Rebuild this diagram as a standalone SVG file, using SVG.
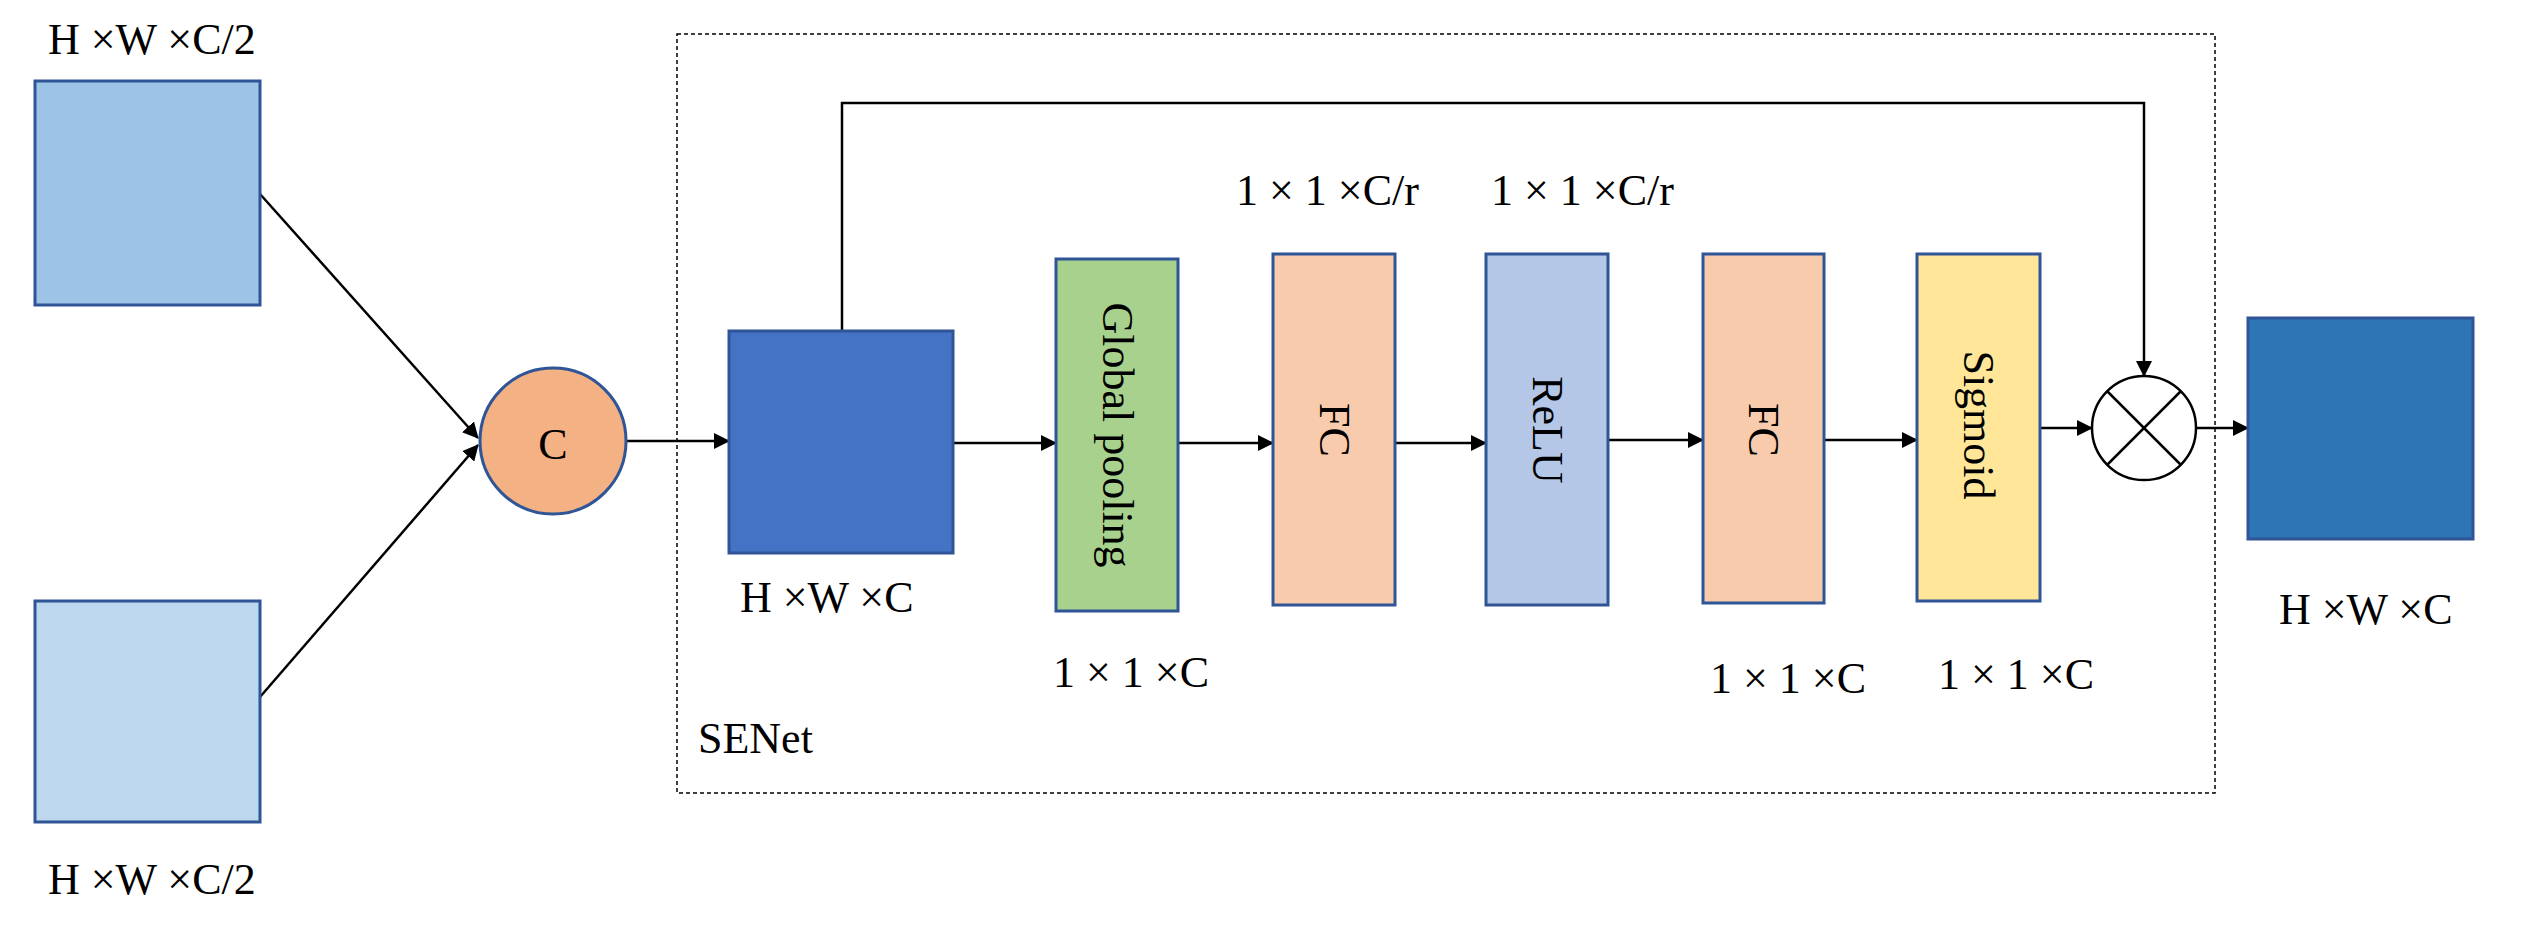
<svg xmlns="http://www.w3.org/2000/svg" width="2523" height="926" viewBox="0 0 2523 926">
<style>
text{font-family:"Liberation Serif","Times New Roman",serif;font-size:44px;fill:#000}
.n{stroke:#2f5597;stroke-width:3}
.c{stroke:#000;stroke-width:2.5;fill:none}
.v{text-anchor:middle;dominant-baseline:central}
</style>
<defs><marker id="a" markerWidth="10" markerHeight="10" refX="9" refY="5" orient="auto" markerUnits="userSpaceOnUse" viewBox="0 0 10 10"><path d="M0,0 L10,5 L0,10 z" fill="#000"/></marker>
<marker id="b" markerWidth="16" markerHeight="16" refX="15" refY="8" orient="auto" markerUnits="userSpaceOnUse" viewBox="0 0 16 16"><path d="M0,0 L16,8 L0,16 z" fill="#000"/></marker></defs>
<rect x="677" y="34" width="1538" height="759" fill="none" stroke="#000" stroke-width="1.5" stroke-dasharray="4,3"/>
<text x="698" y="753">SENet</text>
<g id="connectors" class="c">
<line x1="260" y1="194" x2="478" y2="438" marker-end="url(#b)"/>
<line x1="260" y1="697" x2="478" y2="445" marker-end="url(#b)"/>
<line x1="626" y1="441" x2="729" y2="441" marker-end="url(#b)"/>
<polyline points="842,331 842,103 2144,103 2144,376" marker-end="url(#b)"/>
<line x1="953" y1="443" x2="1056" y2="443" marker-end="url(#b)"/>
<line x1="1178" y1="443" x2="1273" y2="443" marker-end="url(#b)"/>
<line x1="1395" y1="443" x2="1486" y2="443" marker-end="url(#b)"/>
<line x1="1608" y1="440" x2="1703" y2="440" marker-end="url(#b)"/>
<line x1="1824" y1="440" x2="1917" y2="440" marker-end="url(#b)"/>
<line x1="2040" y1="428" x2="2092" y2="428" marker-end="url(#b)"/>
<line x1="2196" y1="428" x2="2248" y2="428" marker-end="url(#b)"/>
</g>
<g id="in1"><rect class="n" x="35" y="81" width="225" height="224" fill="#9dc3e6"/><text x="48" y="54">H ×W ×C/2</text></g>
<g id="in2"><rect class="n" x="35" y="601" width="225" height="221" fill="#bdd7ee"/><text x="48" y="894">H ×W ×C/2</text></g>
<g id="concat"><circle class="n" cx="553" cy="441" r="73" fill="#f4b183" stroke-width="2"/><text x="553" y="444" class="v" font-size="56">C</text></g>
<g id="feat"><rect class="n" x="729" y="331" width="224" height="222" fill="#4472c4"/><text x="740" y="612">H ×W ×C</text></g>
<g id="gp"><rect class="n" x="1056" y="259" width="122" height="352" fill="#a9d18e"/><text class="v" transform="translate(1117,435) rotate(90)">Global pooling</text><text x="1053" y="687">1 × 1 ×C</text></g>
<g id="fc1"><rect class="n" x="1273" y="254" width="122" height="351" fill="#f8cbad"/><text class="v" transform="translate(1334,430) rotate(90)">FC</text></g>
<g id="relu"><rect class="n" x="1486" y="254" width="122" height="351" fill="#b4c7e7"/><text class="v" transform="translate(1547,430) rotate(90)">ReLU</text></g>
<text x="1236" y="205">1 × 1 ×C/r</text><text x="1491" y="205">1 × 1 ×C/r</text>
<g id="fc2"><rect class="n" x="1703" y="254" width="121" height="349" fill="#f8cbad"/><text class="v" transform="translate(1763,430) rotate(90)">FC</text><text x="1710" y="693">1 × 1 ×C</text></g>
<g id="sig"><rect class="n" x="1917" y="254" width="123" height="347" fill="#ffe699"/><text class="v" transform="translate(1978,425) rotate(90)">Sigmoid</text><text x="1938" y="689">1 × 1 ×C</text></g>
<g id="mul" class="c"><circle cx="2144" cy="428" r="52" fill="#fff"/><line x1="2107" y1="391" x2="2181" y2="465"/><line x1="2181" y1="391" x2="2107" y2="465"/></g>
<g id="out"><rect class="n" x="2248" y="318" width="225" height="221" fill="#2e75b6"/><text x="2279" y="624">H ×W ×C</text></g>
</svg>
